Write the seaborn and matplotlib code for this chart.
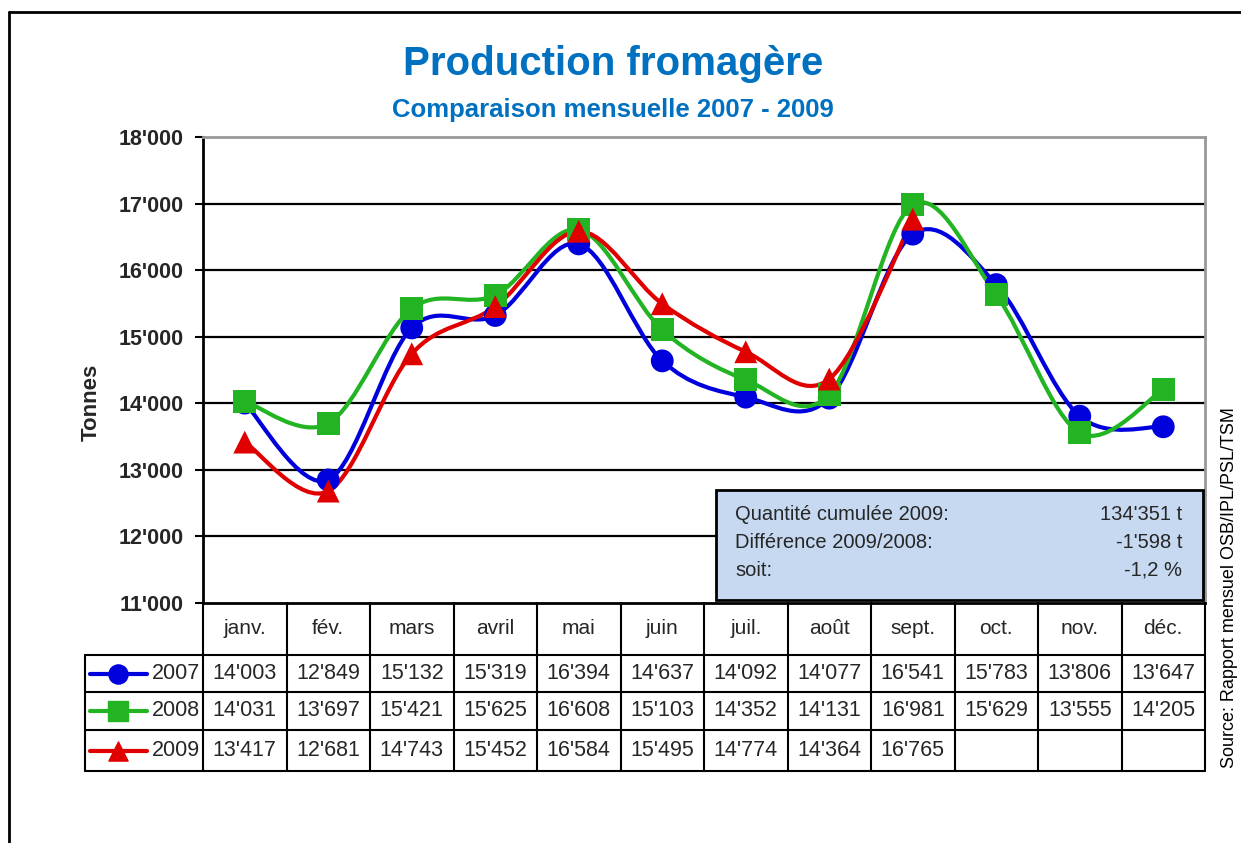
import numpy as np
import pandas as pd
import seaborn as sns
import matplotlib
matplotlib.use("Agg")
from matplotlib import pyplot as plt
from matplotlib.path import Path
from matplotlib.patches import PathPatch, Rectangle
from matplotlib.lines import Line2D

sns.set_theme(style="white")
plt.rcParams['font.family'] = ['Liberation Sans Narrow', 'Liberation Sans', 'DejaVu Sans']

months = ['janv.', 'fév.', 'mars', 'avril', 'mai', 'juin',
          'juil.', 'août', 'sept.', 'oct.', 'nov.', 'déc.']
years = ['2007', '2008', '2009']
v2007 = [14003, 12849, 15132, 15319, 16394, 14637, 14092, 14077, 16541, 15783, 13806, 13647]
v2008 = [14031, 13697, 15421, 15625, 16608, 15103, 14352, 14131, 16981, 15629, 13555, 14205]
v2009 = [13417, 12681, 14743, 15452, 16584, 15495, 14774, 14364, 16765]
yticks = [11000, 12000, 13000, 14000, 15000, 16000, 17000, 18000]
box_labels = ['Quantité cumulée 2009:', 'Différence 2009/2008:', 'soit:']
box_values = ["134'351 t", "-1'598 t", "-1,2 %"]

colors = {'2007': '#0000DD', '2008': '#22B422', '2009': '#E00000'}
markers = {'2007': 'o', '2008': 's', '2009': '^'}

rows = []
for yr, vals in zip(years, [v2007, v2008, v2009]):
    for i, v in enumerate(vals):
        rows.append({'year': yr, 'idx': i, 'month': months[i], 'value': v})
df = pd.DataFrame(rows)


def fmt(v):
    return f"{v:,}".replace(',', "'")


def smooth_path(x, y):
    # Excel-like smoothed line: cubic Bezier through each point
    pts = np.column_stack([x, y]).astype(float)
    n = len(pts)
    verts = [pts[0]]
    codes = [Path.MOVETO]
    for i in range(n - 1):
        p0 = pts[i - 1] if i > 0 else pts[i]
        p1 = pts[i]
        p2 = pts[i + 1]
        p3 = pts[i + 2] if i + 2 < n else pts[i + 1]
        c1 = p1 + (p2 - p0) / 6.0
        c2 = p2 - (p3 - p1) / 6.0
        verts += [c1, c2, p2]
        codes += [Path.CURVE4] * 3
    return Path(verts, codes)


W, H = 1241, 843
fig = plt.figure(figsize=(W / 100, H / 100), dpi=100)

# outer frame
fig.add_artist(Line2D([9 / W, 9 / W], [0, 1 - 12 / H], transform=fig.transFigure, color='black', lw=2))
fig.add_artist(Line2D([9 / W, 1], [1 - 12 / H, 1 - 12 / H], transform=fig.transFigure, color='black', lw=2))

x0, x1, ytop, ybot = 203, 1205, 137, 603
ax = fig.add_axes([x0 / W, 1 - ybot / H, (x1 - x0) / W, (ybot - ytop) / H])
ax.set_xlim(-0.5, 11.5)
ax.set_ylim(11000, 18000)

for yv in yticks[1:-1]:
    ax.axhline(yv, color='black', lw=1.6, zorder=1)

for yr in years:
    d = df[df['year'] == yr]
    ax.add_patch(PathPatch(smooth_path(d['idx'].values, d['value'].values),
                           facecolor='none', edgecolor=colors[yr], lw=3, zorder=3))

sns.scatterplot(data=df, x='idx', y='value', hue='year', style='year',
                palette=colors, markers=markers, s=270, edgecolor='none',
                legend=False, ax=ax, zorder=4)

ax.set_xticks([])
ax.set_yticks(yticks)
ax.set_yticklabels([fmt(v) for v in yticks], fontsize=15.5, fontweight='bold',
                   family=['Liberation Sans', 'DejaVu Sans'])
ax.tick_params(axis='y', length=6, width=1.5, color='black', direction='out', pad=8, left=True)
ax.set_xlabel('')
ax.set_ylabel('Tonnes', fontsize=16, fontweight='bold', family=['Liberation Sans', 'DejaVu Sans'])
ax.yaxis.set_label_coords(-0.101, 0.43)
for s in ['left', 'bottom']:
    ax.spines[s].set_color('black')
    ax.spines[s].set_linewidth(2)
for s in ['top', 'right']:
    ax.spines[s].set_color('#999999')
    ax.spines[s].set_linewidth(2)

# info box
bx0, bx1, by0, by1 = 716, 1203, 490, 600
fig.add_artist(Rectangle((bx0 / W, 1 - by1 / H), (bx1 - bx0) / W, (by1 - by0) / H,
                         transform=fig.transFigure, facecolor='#C6D9F1', edgecolor='black', lw=2, zorder=5))
for k, (lab, val) in enumerate(zip(box_labels, box_values)):
    yy = 1 - (514 + 28 * k) / H
    fig.text(735 / W, yy, lab, fontsize=14.5, va='center', ha='left', zorder=6)
    fig.text(1182 / W, yy, val, fontsize=14.5, va='center', ha='right', zorder=6)

# data table
tx0, ty0, ty1 = 85, 603, 771
col_w = (x1 - x0) / 12.0
tax = fig.add_axes([tx0 / W, 1 - ty1 / H, (x1 - tx0) / W, (ty1 - ty0) / H])
tax.set_xlim(-0.5 - (x0 - tx0) / col_w, 11.5)
tax.set_ylim(ty1, ty0)
tax.axis('off')
row_edges = [603, 655, 692, 730, 771]
lab_left = -0.5 - (x0 - tx0) / col_w
for i, m in enumerate(months):
    tax.text(i, (row_edges[0] + row_edges[1]) / 2, m, ha='center', va='center', fontsize=15)
for r, (yr, vals) in enumerate(zip(years, [v2007, v2008, v2009])):
    yc = (row_edges[r + 1] + row_edges[r + 2]) / 2
    for i, v in enumerate(vals):
        tax.text(i, yc, fmt(v), ha='center', va='center', fontsize=15.5)
    tax.plot([lab_left + 0.06, lab_left + 0.74], [yc, yc], color=colors[yr], lw=3)
    tax.scatter([lab_left + 0.40], [yc], marker=markers[yr], color=colors[yr], s=190, zorder=3)
    tax.text(-0.53, yc, yr, ha='right', va='center', fontsize=15.5)
lkw = dict(color='black', lw=1.5, clip_on=False)
for k in range(13):
    tax.plot([k - 0.5, k - 0.5], [row_edges[0], row_edges[-1]], **lkw)
tax.plot([lab_left, lab_left], [row_edges[1], row_edges[-1]], **lkw)
for e in row_edges[1:]:
    tax.plot([lab_left, 11.5], [e, e], **lkw)

# titles
fig.text(613 / W, 1 - 64 / H, 'Production fromagère', ha='center', va='center',
         fontsize=29, fontweight='bold', color='#0070C0')
fig.text(613 / W, 1 - 110 / H, 'Comparaison mensuelle 2007 - 2009', ha='center', va='center',
         fontsize=18.5, fontweight='bold', color='#0070C0')

# source
fig.text(1230 / W, 1 - 588 / H, 'Source: Rapport mensuel OSB/IPL/PSL/TSM', rotation=90,
         ha='center', va='center', fontsize=13, color='black')

fig.savefig('out.png', dpi=100)
